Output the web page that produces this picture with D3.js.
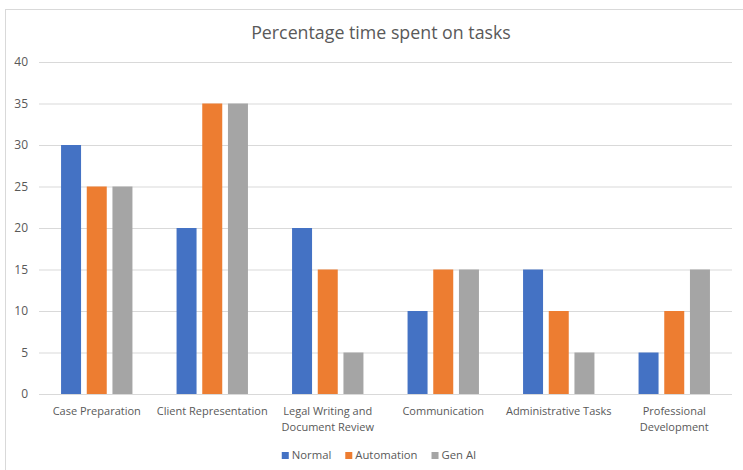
<!DOCTYPE html>
<html>
<head>
<meta charset="utf-8">
<script src="https://cdn.jsdelivr.net/npm/d3@7"></script>
<style>
  html, body { margin: 0; padding: 0; background: #ffffff; }
  svg { display: block; }
  text { font-family: "Open Sans", "Noto Sans", sans-serif; fill: #595959; }
</style>
</head>
<body>
<svg id="chart" width="743" height="470"></svg>
<script>
// Task categories (labels may be split across two lines)
const categories = [
  "Case Preparation",
  "Client Representation",
  "Legal Writing and Document Review",
  "Communication",
  "Administrative Tasks",
  "Professional Development"
];
const categoryLines = [
  ["Case Preparation"],
  ["Client Representation"],
  ["Legal Writing and", "Document Review"],
  ["Communication"],
  ["Administrative Tasks"],
  ["Professional", "Development"]
];

// Percentage of time per task, per working mode
const seriesNames = ["Normal", "Automation", "Gen AI"];
const normalValues     = [30, 20, 20, 10, 15, 5];
const automationValues = [25, 35, 15, 15, 10, 10];
const genAIValues      = [25, 35, 5, 15, 5, 15];
const seriesColors = ["#4472C4", "#ED7D31", "#A5A5A5"];

const yTicks = [0, 5, 10, 15, 20, 25, 30, 35, 40];
const chartTitle = "Percentage time spent on tasks";

const seriesValues = [normalValues, automationValues, genAIValues];

const svg = d3.select("#chart");

// Outer chart frame
svg.append("rect")
  .attr("x", 5.5).attr("y", 9.5)
  .attr("width", 760).attr("height", 480)
  .attr("fill", "#ffffff")
  .attr("stroke", "#d9d9d9")
  .attr("stroke-width", 1);

const plot = { left: 39, right: 732, top: 62, bottom: 394 };

const x0 = d3.scaleBand()
  .domain(categories)
  .range([plot.left, plot.right])
  .paddingInner(0.382)
  .paddingOuter(0.191);

const x1 = d3.scaleBand()
  .domain(seriesNames)
  .range([0, x0.bandwidth()])
  .paddingInner(0.222)
  .paddingOuter(0);

const y = d3.scaleLinear()
  .domain([0, 40])
  .range([plot.bottom, plot.top]);

const color = d3.scaleOrdinal().domain(seriesNames).range(seriesColors);

// Title
svg.append("text")
  .attr("x", 381)
  .attr("y", 39)
  .attr("text-anchor", "middle")
  .style("font-size", "17.8px")
  .text(chartTitle);

// Horizontal gridlines + y labels via axis
const yAxis = d3.axisLeft(y)
  .tickValues(yTicks)
  .tickSize(-(plot.right - plot.left))
  .tickPadding(11)
  .tickFormat(d3.format("d"));

const yg = svg.append("g")
  .attr("transform", `translate(${plot.left},0)`)
  .call(yAxis);
yg.select(".domain").remove();
yg.selectAll(".tick line").attr("stroke", "#d9d9d9").attr("stroke-width", 1);
yg.selectAll(".tick text")
  .style("font-size", "12px")
  .style("font-family", "\"Open Sans\", sans-serif")
  .attr("fill", "#595959");

// Bars
const rows = categories.map((c, i) => ({
  category: c,
  values: seriesNames.map((s, k) => ({ series: s, value: seriesValues[k][i] }))
}));

const groups = svg.append("g").selectAll("g")
  .data(rows)
  .join("g")
  .attr("transform", d => `translate(${x0(d.category)},0)`);

groups.selectAll("rect")
  .data(d => d.values)
  .join("rect")
  .attr("x", d => x1(d.series))
  .attr("y", d => y(d.value))
  .attr("width", x1.bandwidth())
  .attr("height", d => y(0) - y(d.value))
  .attr("fill", d => color(d.series));

// Category axis line
const xAxis = d3.axisBottom(x0).tickSize(0).tickFormat("");
const xg = svg.append("g")
  .attr("transform", `translate(0,${plot.bottom})`)
  .call(xAxis);
xg.select(".domain").attr("stroke", "#d9d9d9").attr("d", `M${plot.left},0.5H${plot.right}`);

// Category labels (wrapped)
const labelG = svg.append("g");
categories.forEach((c, i) => {
  const t = labelG.append("text")
    .attr("x", x0(c) + x0.bandwidth() / 2)
    .attr("y", 415)
    .attr("text-anchor", "middle")
    .style("font-size", "11px");
  categoryLines[i].forEach((line, j) => {
    t.append("tspan")
      .attr("x", x0(c) + x0.bandwidth() / 2)
      .attr("dy", j === 0 ? 0 : 15.5)
      .text(line);
  });
});

// Legend, centred under the plot
const legend = svg.append("g");
const items = legend.selectAll("g")
  .data(seriesNames)
  .join("g");
items.append("rect")
  .attr("width", 7).attr("height", 7)
  .attr("y", -7)
  .attr("fill", d => color(d));
items.append("text")
  .attr("x", 10)
  .attr("y", 0)
  .style("font-size", "11.3px")
  .text(d => d);

let offset = 0;
const gap = 14;
items.each(function () {
  const w = 10 + d3.select(this).select("text").node().getComputedTextLength();
  d3.select(this).attr("transform", `translate(${offset},0)`);
  offset += w + gap;
});
const totalW = offset - gap;
legend.attr("transform", `translate(${379 - totalW / 2},459)`);
</script>
</body>
</html>
